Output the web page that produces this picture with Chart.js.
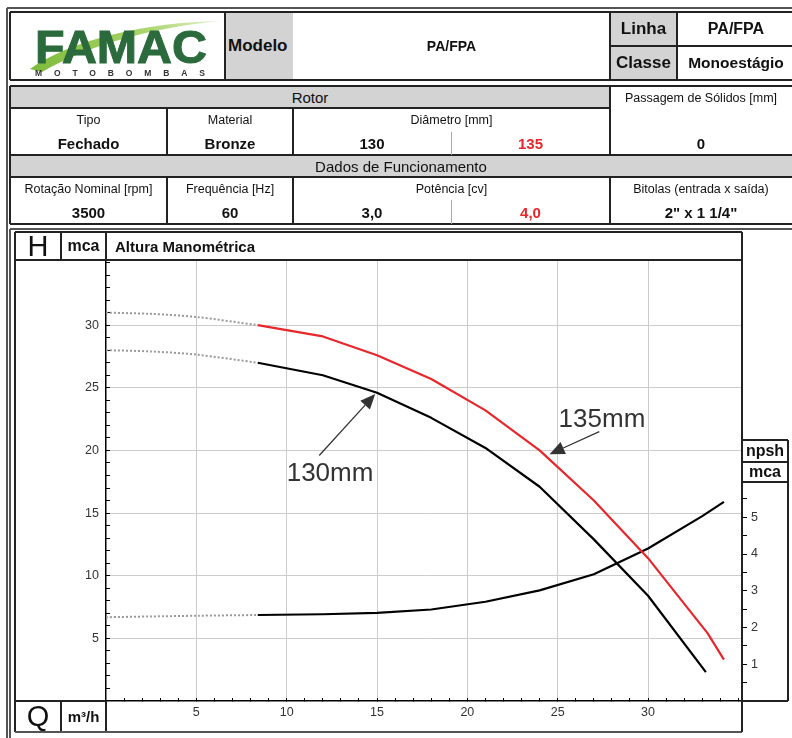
<!DOCTYPE html>
<html>
<head>
<meta charset="utf-8">
<title>PA/FPA - Curva</title>
<script src="https://cdn.jsdelivr.net/npm/chart.js@4.4.1/dist/chart.umd.min.js"></script>
<style>
  body { margin: 0; background: #fff; }
  #page { position: relative; width: 792px; height: 738px; overflow: hidden; background: #fff;
          font-family: "Liberation Sans", Arial, sans-serif; color: #111; }
  #page canvas { position: absolute; left: 0; top: 0; }
  .cell { position: absolute; box-sizing: border-box; display: flex; align-items: center;
          justify-content: center; white-space: nowrap; }
  .ln { position: absolute; }
</style>
</head>
<body>
<div id="page">
  <canvas id="curve" width="792" height="738"></canvas>
  <svg style="position:absolute;left:10px;top:12px" width="215" height="68">
    <defs>
      <linearGradient id="sw" x1="0" y1="0" x2="1" y2="0">
        <stop offset="0" stop-color="#7dbb3a"/>
        <stop offset="0.6" stop-color="#a9d46a"/>
        <stop offset="1" stop-color="#e4f1cf"/>
      </linearGradient>
    </defs>
    <path d="M20,57 C60,28 138,10 210,9 C150,15 84,30 32,60 Z" fill="url(#sw)"/>
    <text x="25" y="51" font-family="Liberation Sans, Arial" font-weight="bold" font-size="46"
          fill="#2b6a3c" stroke="#2b6a3c" stroke-width="1" textLength="172" lengthAdjust="spacingAndGlyphs">FAMAC</text>
    <text x="25" y="64" font-family="Liberation Sans, Arial" font-weight="bold" font-size="8.5"
          fill="#333" textLength="170" lengthAdjust="spacing">MOTOBOMBAS</text>
  </svg>
</div>
<script>
// ---------------------------------------------------------------------------
// Curve data (Q in m³/h, H in mca, NPSH in mca on the right axis)
// ---------------------------------------------------------------------------
const flow130 = [8.4, 12, 15, 18, 21, 24, 27, 30, 33.2];
const head130 = [27.0, 26.0, 24.6, 22.6, 20.2, 17.1, 12.9, 8.4, 2.3];

const flow135 = [8.4, 12, 15, 18, 21, 24, 27, 30, 33.3, 34.2];
const head135 = [30.0, 29.1, 27.6, 25.7, 23.2, 20.0, 16.0, 11.4, 5.4, 3.3];

const flowNpsh = [8.4, 12, 15, 18, 21, 24, 27, 30, 33, 34.2];
const npsh = [2.34, 2.36, 2.40, 2.49, 2.70, 3.01, 3.45, 4.15, 5.03, 5.42];

// dotted part below the minimum flow
const flowLow = [0, 2.5, 5, 8.4];
const head130Low = [28.0, 27.9, 27.65, 27.0];
const head135Low = [31.0, 30.9, 30.65, 30.0];
const npshLow = [2.28, 2.30, 2.32, 2.34];

// axis tick labels
const flowLabels = [5, 10, 15, 20, 25, 30];
const headLabels = [5, 10, 15, 20, 25, 30];
const npshLabels = [1, 2, 3, 4, 5];

const RED = '#e8262b';
const GRID = '#cccccc';
const FONT = '"Liberation Sans", Arial, sans-serif';

// ---------------------------------------------------------------------------
// Data sheet frame (tables above the chart)
// ---------------------------------------------------------------------------
const page = document.getElementById('page');

function cell(x1, y1, x2, y2, text, css) {
    const d = document.createElement('div');
    d.className = 'cell';
    d.style.left = x1 + 'px';
    d.style.top = y1 + 'px';
    d.style.width = (x2 - x1) + 'px';
    d.style.height = (y2 - y1) + 'px';
    if (css) d.style.cssText += css;
    d.textContent = text || '';
    page.appendChild(d);
    return d;
}
function hline(x1, x2, y, w, color) {
    w = w || 1.5;
    const d = document.createElement('div');
    d.className = 'ln';
    d.style.cssText = `left:${x1}px;top:${y - w / 2}px;width:${x2 - x1}px;height:${w}px;background:${color || '#222'}`;
    page.appendChild(d);
}
function vline(x, y1, y2, w, color) {
    w = w || 1.5;
    const d = document.createElement('div');
    d.className = 'ln';
    d.style.cssText = `left:${x - w / 2}px;top:${y1}px;width:${w}px;height:${y2 - y1}px;background:${color || '#222'}`;
    page.appendChild(d);
}

const GRAY = 'background:#d3d3d3;';
const bold = size => `font-weight:bold;font-size:${size}px;`;
const reg = size => `font-size:${size}px;`;

// header
cell(225, 12, 293, 80, 'Modelo', GRAY + bold(17) + 'justify-content:flex-start;padding-left:3px;');
cell(293, 12, 610, 80, 'PA/FPA', bold(14));
cell(610, 12, 677, 46, 'Linha', GRAY + bold(17));
cell(610, 46, 677, 80, 'Classe', GRAY + bold(17));
cell(677, 12, 795, 46, 'PA/FPA', bold(16));
cell(677, 46, 795, 80, 'Monoestágio', bold(15.5));

// rotor block
cell(10, 86, 610, 108, 'Rotor', GRAY + reg(15));
cell(610, 88, 792, 108, 'Passagem de Sólidos [mm]', reg(12.5));
cell(10, 108, 167, 131, 'Tipo', reg(12.5));
cell(167, 108, 293, 131, 'Material', reg(12.5));
cell(293, 108, 610, 131, 'Diâmetro [mm]', reg(12.5));
cell(10, 131, 167, 155, 'Fechado', bold(15));
cell(167, 131, 293, 155, 'Bronze', bold(15));
cell(293, 131, 451, 155, '130', bold(15));
cell(451, 131, 610, 155, '135', bold(15) + 'color:' + RED + ';');
cell(610, 131, 792, 155, '0', bold(15));

// operating data block
cell(10, 155, 792, 177, 'Dados de Funcionamento', GRAY + reg(15));
cell(10, 177, 167, 200, 'Rotação Nominal [rpm]', reg(12.5));
cell(167, 177, 293, 200, 'Frequência [Hz]', reg(12.5));
cell(293, 177, 610, 200, 'Potência [cv]', reg(12.5));
cell(610, 177, 792, 200, 'Bitolas (entrada x saída)', reg(12.5));
cell(10, 200, 167, 224, '3500', bold(15));
cell(167, 200, 293, 224, '60', bold(15));
cell(293, 200, 451, 224, '3,0', bold(15));
cell(451, 200, 610, 224, '4,0', bold(15) + 'color:' + RED + ';');
cell(610, 200, 792, 224, '2" x 1 1/4"', bold(15));

// chart captions
cell(15, 232, 61, 260, 'H', reg(29) + 'padding-top:1px;');
cell(61, 232, 106, 260, 'mca', bold(16));
cell(106, 232, 742, 260, 'Altura Manométrica', bold(15) + 'justify-content:flex-start;padding-left:9px;');
cell(15, 701, 61, 732, 'Q', reg(29));
cell(61, 701, 106, 732, 'm³/h', bold(15));
cell(742, 440, 788, 462, 'npsh', bold(16));
cell(742, 462, 788, 482, 'mca', bold(16));

// outer frame
hline(7, 792, 8, 1.5, '#555');
vline(7, 8, 738, 1.5, '#555');
// header lines
hline(10, 795, 12);
hline(10, 795, 80);
vline(10, 12, 80);
vline(225, 12, 80);
vline(610, 12, 80);
vline(677, 12, 80);
hline(610, 795, 46);
// data table lines
hline(10, 792, 86);
hline(10, 610, 108);
hline(10, 792, 155);
hline(10, 792, 177);
hline(10, 792, 224);
vline(10, 86, 224);
vline(167, 108, 155);
vline(293, 108, 155);
vline(610, 86, 155);
vline(451, 132, 155, 1, '#aaa');
vline(167, 177, 224);
vline(293, 177, 224);
vline(610, 177, 224);
vline(451, 200, 224, 1, '#aaa');
// chart frame
hline(10, 792, 229, 1.5, '#555');
vline(10, 229, 738, 1.5, '#555');
hline(15, 742, 232);
vline(15, 232, 732);
hline(15, 742, 260);
vline(61, 232, 260);
vline(106, 232, 260);
hline(15, 106, 701);
vline(61, 701, 732);
vline(106, 701, 732);
hline(15, 742, 732, 2, '#555');
vline(742, 232, 732);
// npsh caption box
hline(742, 788, 440);
hline(742, 788, 462);
hline(742, 788, 482);
hline(742, 788, 701);
vline(788, 440, 701);

// ---------------------------------------------------------------------------
// Chart
// ---------------------------------------------------------------------------
const toPoints = (xs, ys) => xs.map((x, i) => ({ x: x, y: ys[i] }));
const near = (a, b) => Math.abs(a - b) < 1e-6;
const inList = (list, v) => list.some(t => near(t, v));
const tickValue = c => (c && c.tick ? c.tick.value : NaN);

// annotation arrows, given in chart units
const diameterNotes = [
    { label: '130mm', textQ: 10.0, textH: 17.6, fromQ: 11.8, fromH: 19.6, toQ: 14.9, toH: 24.5 },
    { label: '135mm', textQ: 25.05, textH: 21.9, fromQ: 27.3, fromH: 21.5, toQ: 24.55, toH: 19.7 }
];

const notesPlugin = {
    id: 'diameterNotes',
    afterDatasetsDraw(chart) {
        const ctx = chart.ctx;
        const xs = chart.scales.x;
        const ys = chart.scales.y;
        ctx.save();
        diameterNotes.forEach(n => {
            const x1 = xs.getPixelForValue(n.fromQ), y1 = ys.getPixelForValue(n.fromH);
            const x2 = xs.getPixelForValue(n.toQ), y2 = ys.getPixelForValue(n.toH);
            const ang = Math.atan2(y2 - y1, x2 - x1);
            const headLen = 15, headHalf = 6.5;
            const bx = x2 - headLen * Math.cos(ang), by = y2 - headLen * Math.sin(ang);
            ctx.strokeStyle = '#333';
            ctx.fillStyle = '#333';
            ctx.lineWidth = 1.3;
            ctx.beginPath();
            ctx.moveTo(x1, y1);
            ctx.lineTo(bx, by);
            ctx.stroke();
            ctx.beginPath();
            ctx.moveTo(x2, y2);
            ctx.lineTo(bx + headHalf * Math.sin(ang), by - headHalf * Math.cos(ang));
            ctx.lineTo(bx - headHalf * Math.sin(ang), by + headHalf * Math.cos(ang));
            ctx.closePath();
            ctx.fill();
            ctx.font = '26px ' + FONT;
            ctx.textAlign = 'left';
            ctx.textBaseline = 'alphabetic';
            ctx.fillText(n.label, xs.getPixelForValue(n.textQ), ys.getPixelForValue(n.textH));
        });
        ctx.restore();
    }
};

const dotted = {
    borderColor: '#999999',
    borderWidth: 2,
    borderDash: [2, 2],
    pointRadius: 0,
    tension: 0.3
};
const solid = {
    borderWidth: 2.2,
    pointRadius: 0,
    tension: 0,
    borderJoinStyle: 'round'
};

const tickFont = { family: FONT, size: 12.5 };

new Chart(document.getElementById('curve').getContext('2d'), {
    type: 'line',
    data: {
        datasets: [
            Object.assign({ label: '135mm (extrapolado)', data: toPoints(flowLow, head135Low), yAxisID: 'y' }, dotted),
            Object.assign({ label: '130mm (extrapolado)', data: toPoints(flowLow, head130Low), yAxisID: 'y' }, dotted),
            Object.assign({ label: 'NPSH (extrapolado)', data: toPoints(flowLow, npshLow), yAxisID: 'y1' }, dotted),
            Object.assign({ label: '135mm', data: toPoints(flow135, head135), borderColor: RED, yAxisID: 'y' }, solid),
            Object.assign({ label: '130mm', data: toPoints(flow130, head130), borderColor: '#000', yAxisID: 'y' }, solid),
            Object.assign({ label: 'NPSH', data: toPoints(flowNpsh, npsh), borderColor: '#000', yAxisID: 'y1' }, solid)
        ]
    },
    options: {
        responsive: false,
        animation: false,
        events: [],
        layout: { padding: { top: 260, left: 0, right: 0, bottom: 0 } },
        plugins: {
            legend: { display: false },
            tooltip: { enabled: false }
        },
        scales: {
            x: {
                type: 'linear',
                position: 'bottom',
                min: 0,
                max: 35.2,
                bounds: 'data',
                afterFit: s => { s.height = 37; },
                ticks: {
                    stepSize: 1,
                    includeBounds: false,
                    maxTicksLimit: 100,
                    autoSkip: false,
                    maxRotation: 0,
                    padding: 7.5,
                    color: '#333',
                    font: tickFont,
                    callback: v => (inList(flowLabels, v) ? String(v) : '')
                },
                grid: {
                    color: c => (inList(flowLabels, tickValue(c)) ? GRID : 'rgba(0,0,0,0)'),
                    lineWidth: 1,
                    tickLength: -3,
                    tickColor: c => (tickValue(c) > 0 ? '#000' : 'rgba(0,0,0,0)'),
                    tickWidth: 1
                },
                border: { color: '#000', width: 1.5 }
            },
            y: {
                type: 'linear',
                position: 'left',
                min: 0,
                max: 35.2,
                bounds: 'data',
                afterFit: s => { s.width = 106; },
                ticks: {
                    stepSize: 1,
                    includeBounds: false,
                    maxTicksLimit: 100,
                    autoSkip: false,
                    padding: 11,
                    color: '#333',
                    font: tickFont,
                    callback: v => (inList(headLabels, v) ? String(v) : '')
                },
                grid: {
                    color: c => (inList(headLabels, tickValue(c)) ? GRID : 'rgba(0,0,0,0)'),
                    lineWidth: 1,
                    tickLength: -4,
                    tickColor: c => (tickValue(c) > 0 ? '#000' : 'rgba(0,0,0,0)'),
                    tickWidth: 1
                },
                border: { color: '#000', width: 1.5 }
            },
            y1: {
                type: 'linear',
                position: 'right',
                min: 0,
                max: 12,
                bounds: 'data',
                afterFit: s => { s.width = 50; },
                ticks: {
                    stepSize: 0.5,
                    includeBounds: false,
                    maxTicksLimit: 100,
                    autoSkip: false,
                    padding: 4,
                    color: '#333',
                    font: tickFont,
                    callback: v => (inList(npshLabels, v) ? String(v) : '')
                },
                grid: {
                    drawOnChartArea: false,
                    tickLength: 5,
                    tickColor: c => {
                        const v = tickValue(c);
                        return v > 0 && v < 5.75 ? '#000' : 'rgba(0,0,0,0)';
                    },
                    tickWidth: 1
                },
                border: { color: '#000', width: 1.5 }
            }
        }
    },
    plugins: [notesPlugin]
});
</script>
</body>
</html>
